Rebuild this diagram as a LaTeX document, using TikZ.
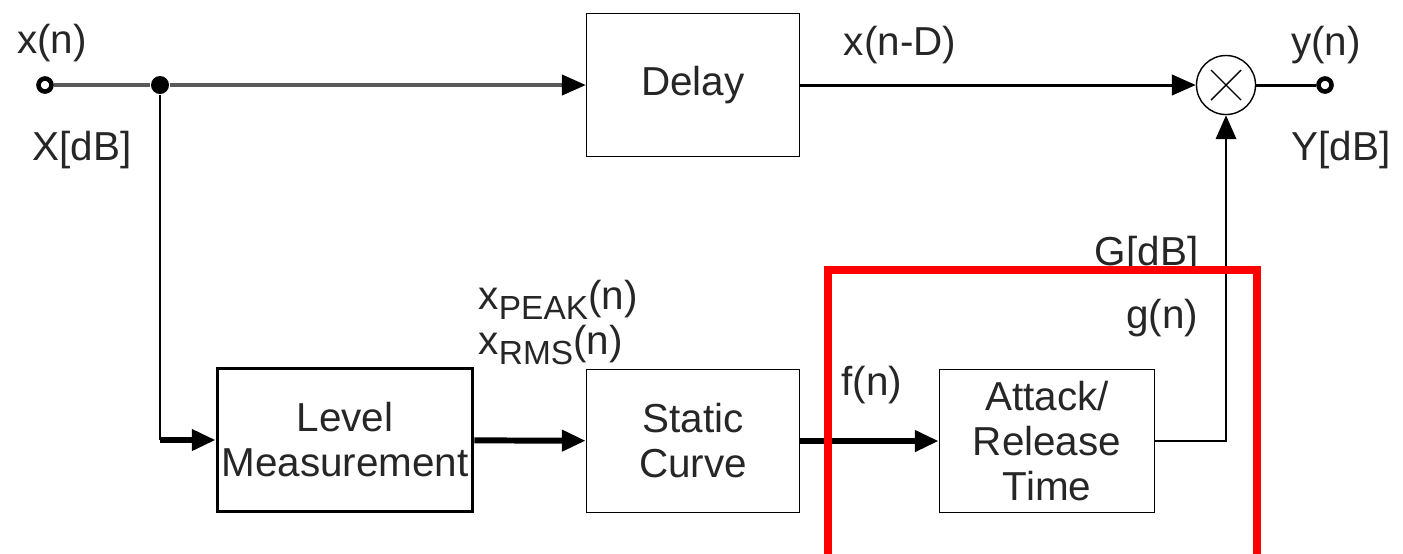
\documentclass[tikz,border=0pt]{standalone}
\usepackage{fontspec}
\setmainfont{Liberation Sans}
\usetikzlibrary{arrows.meta}
\tikzset{
  block/.style={draw, line width=0.4pt, minimum width=2.13cm, minimum height=1.43cm, inner sep=0pt, align=center, text=black!85},
  lbl/.style={inner sep=0pt, text=black!85},
  sig/.style={-{Triangle[length=6.8pt,width=5.8pt,color=black]}},
  term/.style={circle, draw, line width=1.3pt, fill=white, minimum size=0.13cm, inner sep=0pt},
}
\newcommand{\sbs}[1]{\raisebox{-0.45ex}{\fontsize{9.5}{10}\selectfont #1}}
\begin{document}
\begin{tikzpicture}[x=0.01cm, y=-0.01cm, font=\fontsize{11.5}{12.8}\selectfont]
\useasboundingbox (0,0) rectangle (1403,553);
\node[term] (xin) at (45,85) {};
\node[circle, fill=black, minimum size=0.18cm, inner sep=0pt] (split) at (160,85) {};
\coordinate (bend) at (160,440);
\node[block] (delay) at (693,85) {Delay};
\node[block, minimum width=2.55cm, line width=1pt] (level) at (345,440) {Level\\Measurement};
\node[block] (static) at (693,441) {Static\\Curve};
\node[block, minimum width=2.15cm] (attack) at (1047,441) {Attack/\\Release\\Time};
\node[circle, draw, line width=0.4pt, minimum size=0.59cm, inner sep=0pt,
  path picture={\draw[line width=0.4pt, shift={(path picture bounding box.center)}]
    (-0.15cm,-0.15cm) -- (0.15cm,0.15cm) (-0.15cm,0.15cm) -- (0.15cm,-0.15cm);}] (mult) at (1226,85) {};
\node[term] (yout) at (1325,85) {};

\draw[black!65, line width=0.9pt] (xin) -- (split);
\draw[sig, black!65, line width=0.9pt] (split) -- (delay);
\draw[line width=0.55pt] (split) -- (bend);
\draw[sig, line width=1.7pt] (bend) -- (level);
\draw[sig, line width=1.7pt] (level) -- (static);
\draw[sig, line width=1.7pt] (static) -- (attack);
\draw[sig, line width=0.85pt] (delay) -- (mult);
\draw[sig, line width=0.65pt] (attack) -| (mult);
\draw[line width=0.85pt] (mult) -- (yout);

\node[lbl] (lxn) at (52,43) {x(n)};
\node[lbl] (lxdb) at (82,150) {X[dB]};
\node[lbl] (lxd) at (900,45) {x(n-D)};
\node[lbl] (lyn) at (1326,45) {y(n)};
\node[lbl] (lydb) at (1341,150) {Y[dB]};
\node[lbl, anchor=east] (lgdb) at (1199,255) {G[dB]};
\node[lbl, anchor=east] (lgn) at (1199,318) {g(n)};
\node[lbl, anchor=west] (lpeak) at (478,300) {x\sbs{PEAK}(n)};
\node[lbl, anchor=west] (lrms) at (478,345) {x\sbs{RMS}(n)};
\node[lbl] (lfn) at (872,385) {f(n)};

\draw[red, line width=2.3pt] (828,560) |- (1257,270) -- (1257,560);
\end{tikzpicture}
\end{document}
